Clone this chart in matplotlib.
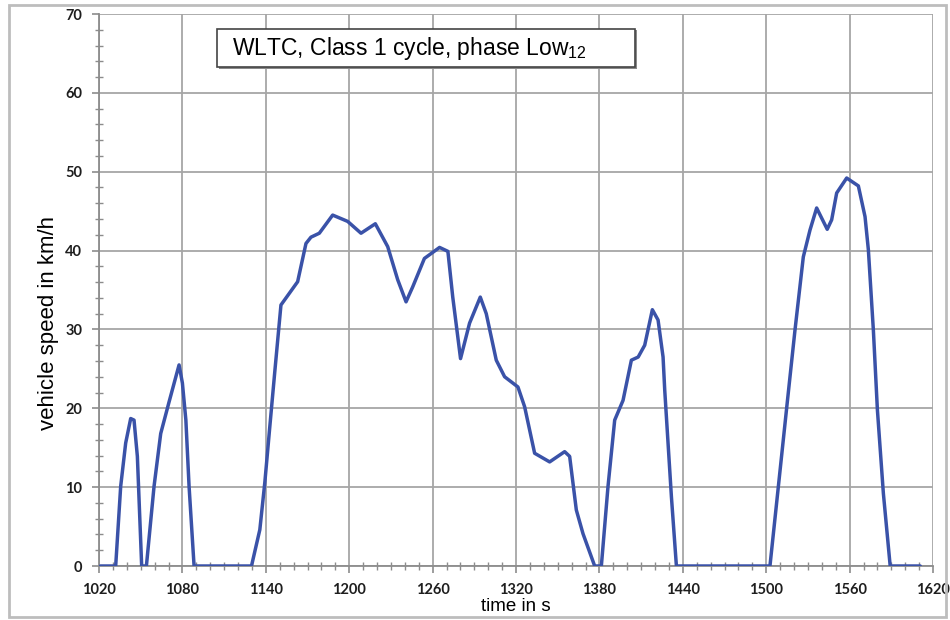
import matplotlib
matplotlib.use("Agg")
import matplotlib.pyplot as plt
from matplotlib.patches import Rectangle
from matplotlib.ticker import MultipleLocator

# ---- data ----
time_s = [1021, 1032, 1035.6, 1039.2, 1042.8, 1045.2, 1047.6, 1050.7, 1054.1,
          1059.6, 1064.4, 1070.4, 1077.6, 1080, 1082.5, 1084.8, 1088.4,
          1129.7, 1135.7, 1139.3, 1142.9, 1146.5, 1150.9, 1162.9, 1168.9,
          1172.5, 1178.5, 1188.1, 1198.9, 1208.5, 1218.8, 1227.7, 1234.9,
          1240.9, 1245.7, 1254.1, 1265, 1271, 1274.5, 1280.1, 1286.6, 1294.3,
          1298.6, 1305.8, 1311.8, 1321.4, 1326.2, 1333.4, 1344.2, 1355,
          1358.6, 1363.4, 1368.2, 1376.6, 1381.4, 1386.2, 1391, 1397, 1403,
          1407.9, 1412.6, 1418.1, 1422.2, 1425.8, 1427, 1431.8, 1435.4,
          1502.7, 1508.7, 1514.7, 1520.7, 1526.7, 1531.5, 1536.3, 1543.9,
          1547.1, 1550.7, 1557.9, 1566.3, 1571.1, 1573.5, 1577.1, 1580,
          1584.3, 1589.2, 1610.8]
speed_kmh = [0, 0, 10.1, 15.6, 18.7, 18.5, 13.9, 0, 0,
             10.1, 16.8, 20.8, 25.5, 23.2, 18.5, 10.1, 0,
             0, 4.6, 10.6, 17.7, 24.7, 33.1, 36.05, 40.9,
             41.7, 42.2, 44.5, 43.7, 42.2, 43.4, 40.5, 36.3,
             33.5, 35.4, 39.0, 40.4, 39.9, 34.1, 26.3, 30.8, 34.1,
             32.0, 26.1, 24.0, 22.7, 20.2, 14.3, 13.2, 14.5,
             13.9, 7.1, 4.1, 0, 0, 10.1, 18.5, 21.0, 26.1,
             26.5, 28.0, 32.5, 31.2, 26.5, 22.3, 8.8, 0,
             0, 10.0, 20.0, 29.9, 39.2, 42.6, 45.4, 42.7,
             43.9, 47.3, 49.2, 48.2, 44.3, 40.1, 29.9, 19.8,
             9.2, 0, 0]

x_ticks = [1020, 1080, 1140, 1200, 1260, 1320, 1380, 1440, 1500, 1560, 1620]
y_ticks = [0, 10, 20, 30, 40, 50, 60, 70]
title_text = "WLTC, Class 1 cycle, phase Low$_{\\mathregular{12}}$"
x_label = "time in s"
y_label = "vehicle speed in km/h"

plt.rcParams["mathtext.default"] = "regular"

fig = plt.figure(figsize=(9.5, 6.2), dpi=100)
ax = fig.add_axes([99/950, 1-566/620, (933-99)/950, (566-14)/620])

ax.plot(time_s, speed_kmh, color="#3a52a8", lw=2.5, solid_joinstyle="round",
        solid_capstyle="round", zorder=3)

ax.set_xlim(1020, 1620)
ax.set_ylim(0, 70)
ax.set_xticks(x_ticks)
ax.set_yticks(y_ticks)
ax.xaxis.set_minor_locator(MultipleLocator(10))
ax.yaxis.set_minor_locator(MultipleLocator(2))

grid_c = "#a6a6a6"
ax.grid(True, which="major", color=grid_c, lw=1.3, zorder=0)
for side in ["top", "right"]:
    ax.spines[side].set_visible(False)
for side in ["left", "bottom"]:
    ax.spines[side].set_color("#8c8c8c")
    ax.spines[side].set_linewidth(1.3)

ax.tick_params(which="major", direction="out", length=5, width=1.2,
               color="#8c8c8c", pad=7)
ax.tick_params(which="minor", direction="inout", length=6, width=1.0,
               color="#8c8c8c")

for lab in ax.get_xticklabels() + ax.get_yticklabels():
    lab.set_fontfamily("Lato")
    lab.set_fontweight("bold")
    lab.set_fontsize(10.5)
    lab.set_color("#1e1e1e")

ax.set_ylabel(y_label, fontsize=16, family="Liberation Sans")
ax.yaxis.set_label_coords(-0.048, 0.44)
ax.set_xlabel(x_label, fontsize=13.5, family="Liberation Sans", labelpad=1)

# title box
fig.patches.append(Rectangle((219/950, 1-69/620), (637-219)/950, (69-30)/620,
                             transform=fig.transFigure, facecolor="#8a8a8a",
                             edgecolor="none", zorder=4))
fig.patches.append(Rectangle((217/950, 1-67/620), (635-217)/950, (67-29)/620,
                             transform=fig.transFigure, facecolor="white",
                             edgecolor="#444444", lw=1.2, zorder=5))
fig.text(232/950, 1-49/620, title_text, fontsize=16.5, family="Liberation Sans",
         va="center", ha="left", zorder=6)

# outer border
fig.patches.append(Rectangle((9/950, 1-617/620), (946-9)/950, (617-5)/620,
                             transform=fig.transFigure, facecolor="none",
                             edgecolor="#bdbdbd", lw=2))

fig.savefig("out.png", dpi=100)
